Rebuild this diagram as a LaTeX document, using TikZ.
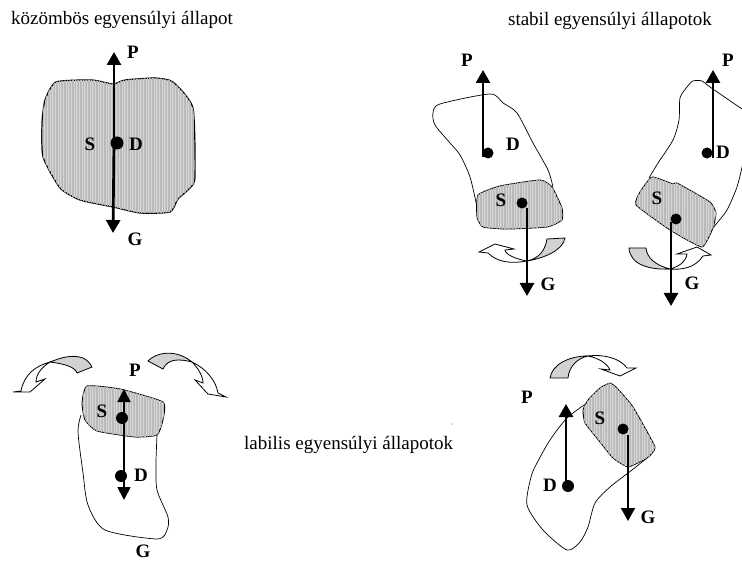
\documentclass[tikz,border=0pt]{standalone}
\usepackage{fontspec}
\setmainfont{Liberation Serif}
\usetikzlibrary{arrows.meta, patterns.meta}

\begin{document}
\begin{tikzpicture}[
  x=1pt, y=-1pt,
  title/.style={font=\fontsize{19}{20}\selectfont, inner sep=0pt},
  letter/.style={font=\fontsize{19}{20}\selectfont\bfseries, inner sep=0pt},
  body/.style={draw, line width=0.7pt},
  core/.style={draw, line width=0.9pt, fill=gray!32, postaction={pattern={Lines[angle=90,distance=1.6pt,line width=0.6pt]}, pattern color=gray!55}},
  centre/.style={circle, fill=black, minimum size=11pt, inner sep=0pt},
  force/.style={-{Triangle[length=13pt,width=14pt]}, line width=2.7pt},
  turn/.style={draw, line width=0.8pt, fill=gray!35},
  swing/.style={draw, line width=0.8pt, fill=white, line join=miter},
]
\useasboundingbox (0,0) rectangle (742,561);
% Kozombos
\node[title, anchor=west] (t1) at (11,20) {közömbös egyensúlyi állapot};
\path[core, line width=1.2pt] plot[smooth cycle, tension=0.35] coordinates {(56,82) (92,80) (113,84) (125,80) (155,78) (173,82) (193,108) (195,177) (190,188) (178,199) (170,212) (140,213) (113,207) (80,200) (60,188) (43,157) (42,123) (45,100)};
\coordinate (a1) at (114,143);
\coordinate (p1) at (114,52);
\coordinate (g1) at (113,233);
\draw[force] (a1) -- (p1);
\draw[force] (a1) -- (g1);
\node[centre, minimum size=13pt] (c1) at (117,143) {};
\node[letter] (lp1) at (133,52) {P};
\node[letter] (ls1) at (90,144) {S};
\node[letter] (ld1) at (136,144) {D};
\node[letter] (lg1) at (135,239) {G};
% Stabil, bal oldali
\node[title, anchor=east] (t2) at (712,21) {stabil egyensúlyi állapotok};
\draw[body] plot[smooth, tension=0.45] coordinates {(479,218) (477,207) (470,177) (460,155) (450,143) (435,125) (433,113) (440,104) (490,94) (503,103) (517,113) (533,143) (548,170) (553,187)};
\path[core] plot[smooth cycle, tension=0.3] coordinates {(478,195) (500,186) (540,180) (552,187) (562,208) (562,220) (547,227) (507,229) (483,227) (477,217)};
\node[centre] (d2) at (488,153) {};
\node[centre] (s2) at (522,203) {};
\coordinate (a2) at (483,157);
\coordinate (p2) at (483,70);
\coordinate (b2) at (527,208);
\coordinate (g2) at (527,296);
\path[turn] (565,238) .. controls (563,250) and (545,258) .. (527,261) .. controls (540,258) and (545,250) .. (547,239) -- cycle;
\path[swing] (527,261) .. controls (510,264) and (497,262) .. (488,253) -- (479,252) -- (495,244) -- (514,249) -- (505,250) .. controls (505,254) and (515,259) .. (527,261) -- cycle;
\draw[force] (a2) -- (p2);
\draw[force] (b2) -- (g2);
\node[letter] (lp2) at (467,60) {P};
\node[letter] (ld2) at (513,144) {D};
\node[letter] (ls2) at (501,200) {S};
\node[letter] (lg2) at (548,284) {G};
% Stabil, jobb oldali
\draw[body] plot[smooth, tension=0.45] coordinates {(649,178) (658,163) (673,140) (679,120) (680,98) (687,87) (693,81) (702,81) (710,87) (742,109)};
\draw[body] plot[smooth, tension=0.45] coordinates {(743,163) (737,187) (727,210) (717,223) (713,228)};
\path[core] plot[smooth cycle, tension=0.25] coordinates {(652,177) (673,184) (677,183) (710,202) (716,213) (713,228) (702,247) (670,230) (636,205) (640,192)};
\node[centre] (d3) at (707,153) {};
\node[centre] (s3) at (676,219) {};
\coordinate (a3) at (713,158);
\coordinate (p3) at (713,70);
\coordinate (b3) at (671,222);
\coordinate (g3) at (671,306);
\path[turn] (629,248) -- (646,248) .. controls (647,258) and (655,265) .. (670,269) .. controls (650,270) and (630,265) .. (629,248) -- cycle;
\path[swing] (670,269) .. controls (682,270) and (695,268) .. (703,256) -- (711,255) -- (697,247) -- (677,254) -- (687,254) .. controls (686,262) and (678,267) .. (670,269) -- cycle;
\draw[force] (a3) -- (p3);
\draw[force] (b3) -- (g3);
\node[letter] (lp3) at (728,60) {P};
\node[letter] (ld3) at (723,152) {D};
\node[letter] (ls3) at (657,198) {S};
\node[letter] (lg3) at (692,283) {G};
% Labilis, bal oldali
\node[title, anchor=west] (t3) at (244,445) {labilis egyensúlyi állapotok};
\draw[body] plot[smooth, tension=0.45] coordinates {(81,415) (78,432) (83,473) (88,505) (105,530) (157,539) (167,530) (168,517) (157,490) (156,463) (157,435)};
\path[core] plot[smooth cycle, tension=0.3] coordinates {(87,386) (120,389) (163,402) (163,420) (157,435) (135,437) (97,431) (85,420) (82,403)};
\path[turn] (50,362) .. controls (60,358) and (72,354) .. (83,358) .. controls (87,360) and (90,363) .. (92,367) -- (77,373) .. controls (75,367) and (65,364) .. (50,362) -- cycle;
\path[swing] (50,362) .. controls (35,366) and (24,375) .. (21,391) -- (13,392) -- (30,392) -- (45,379) -- (36,382) .. controls (36,374) and (42,367) .. (50,362) -- cycle;
\path[turn] (148,361) .. controls (155,353) and (175,348) .. (192,362) .. controls (180,359) and (168,358) .. (163,369) -- cycle;
\path[swing] (192,362) .. controls (205,368) and (216,380) .. (218,393) -- (226,397) -- (208,394) -- (195,380) -- (203,383) .. controls (203,376) and (198,368) .. (192,362) -- cycle;
\coordinate (p4) at (124,389);
\coordinate (g4) at (124,500);
\draw[{Triangle[length=13pt,width=13pt]}-{Triangle[length=13pt,width=13pt]}, line width=1.8pt] (p4) -- (g4);
\node[centre, minimum size=12pt] (s4) at (122,418) {};
\node[centre, minimum size=12pt] (d4) at (121,476) {};
\node[letter] (lp4) at (135,370) {P};
\node[letter] (ls4) at (102,411) {S};
\node[letter] (ld4) at (141,475) {D};
\node[letter, anchor=base] (lg4) at (143,557) {G};
% Labilis, jobb oldali
\node[circle, fill=black, minimum size=1pt, inner sep=0pt] (pont) at (452,424) {};
\draw[body] plot[smooth, tension=0.45] coordinates {(587,403) (567,418) (550,440) (537,463) (531,477) (527,505) (543,530) (567,550) (580,542) (588,527) (595,503) (610,487) (632,470) (647,458)};
\path[core] plot[smooth cycle, tension=0.25] coordinates {(610,383) (617,388) (633,407) (655,447) (647,458) (628,467) (613,458) (600,442) (585,423) (583,410) (588,400) (600,388)};
\path[turn] (550,378) .. controls (552,365) and (568,356) .. (588,356) .. controls (578,358) and (569,366) .. (568,378) -- cycle;
\path[swing] (588,356) .. controls (603,354) and (620,358) .. (627,368) -- (636,368) -- (620,376) -- (601,369) -- (610,370) .. controls (607,363) and (598,358) .. (588,356) -- cycle;
\node[centre] (s5) at (623,429) {};
\node[centre, minimum size=12pt] (d5) at (568,486) {};
\coordinate (a5) at (566,486);
\coordinate (p5) at (566,404);
\coordinate (b5) at (628,435);
\coordinate (g5) at (628,521);
\draw[force] (a5) -- (p5);
\draw[force, line width=1.8pt] (b5) -- (g5);
\node[letter] (lp5) at (527,397) {P};
\node[letter] (ls5) at (600,418) {S};
\node[letter] (ld5) at (550,485) {D};
\node[letter] (lg5) at (648,517) {G};
\end{tikzpicture}
\end{document}
